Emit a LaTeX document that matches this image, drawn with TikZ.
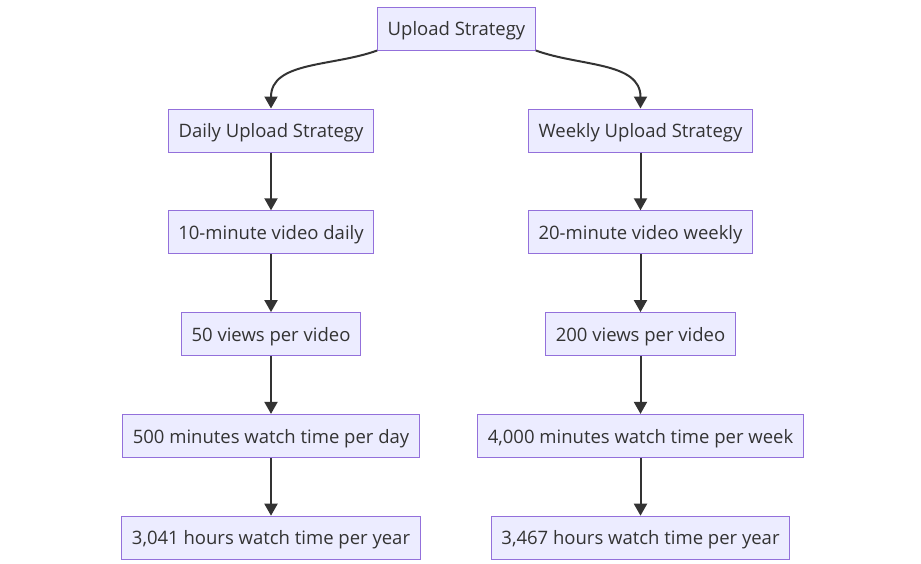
\documentclass[tikz,border=0pt]{standalone}
\usepackage{fontspec}
\setmainfont{Open Sans}
\usetikzlibrary{arrows.meta,positioning}
\definecolor{boxfill}{HTML}{ECECFF}
\definecolor{boxline}{HTML}{9370DB}
\definecolor{ink}{HTML}{333333}

\begin{document}
\begin{tikzpicture}[x=1pt, y=-1pt, node distance=57.8pt, every node/.style={font=\fontsize{18.5}{22}\selectfont, text=ink}, box/.style={draw=boxline, fill=boxfill, line width=1pt, inner xsep=10pt, minimum height=43pt, text height=19.8pt, text depth=5.4pt}, arrow/.style={-{Triangle[length=12pt,width=13pt]}, line width=2pt, draw=ink}]
\useasboundingbox (0,0) rectangle (921,563);
\node[box] (upload) at (456.5,28.5) {Upload Strategy};
% daily branch
\node[box] (daily) at (271,130.5) {Daily Upload Strategy};
\node[box, below=of daily] (tenmin) {10-minute video daily};
\node[box, below=of tenmin] (fifty) {50 views per video};
\node[box, below=of fifty] (fivehundred) {500 minutes watch time per day};
\node[box, below=of fivehundred] (dailyyear) {3,041 hours watch time per year};
% weekly branch
\node[box] (weekly) at (640.5,130.5) {Weekly Upload Strategy};
\node[box, below=of weekly] (twentymin) {20-minute video weekly};
\node[box, below=of twentymin] (twohundred) {200 views per video};
\node[box, below=of twohundred] (fourthousand) {4,000 minutes watch time per week};
\node[box, below=of fourthousand] (weeklyyear) {3,467 hours watch time per year};
\draw[arrow] (upload.south west) to[out=-160, in=90] (daily.north);
\draw[arrow] (upload.south east) to[out=-20, in=90] (weekly.north);
\draw[arrow] (daily)--(tenmin);
\draw[arrow] (tenmin)--(fifty);
\draw[arrow] (fifty)--(fivehundred);
\draw[arrow] (fivehundred)--(dailyyear);
\draw[arrow] (weekly)--(twentymin);
\draw[arrow] (twentymin)--(twohundred);
\draw[arrow] (twohundred)--(fourthousand);
\draw[arrow] (fourthousand)--(weeklyyear);
\end{tikzpicture}
\end{document}
